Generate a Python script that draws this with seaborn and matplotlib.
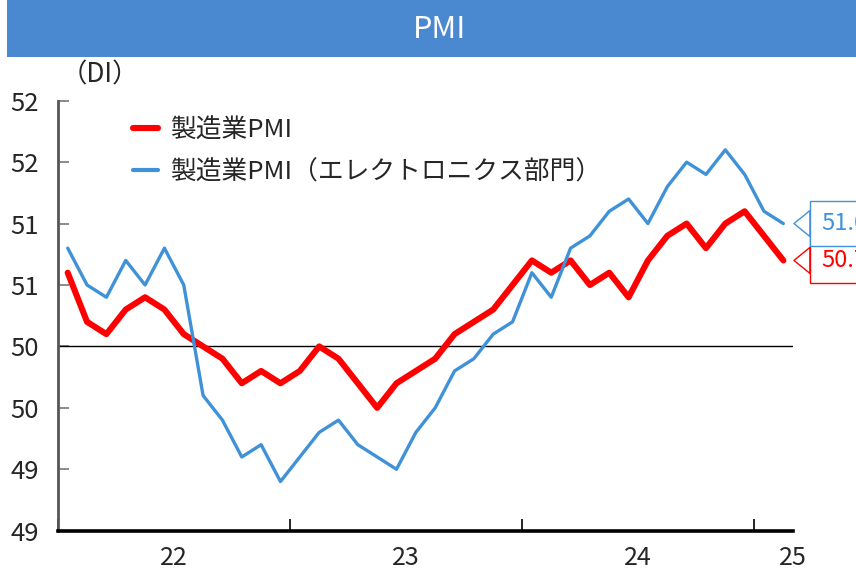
import numpy as np
import pandas as pd
import seaborn as sns
import matplotlib.pyplot as plt
from matplotlib.patches import Rectangle

# monthly, Jan 2022 - Feb 2025
months = pd.period_range("2022-01", "2025-02", freq="M")

mfg_pmi = [50.6, 50.2, 50.1, 50.3, 50.4, 50.3, 50.1, 50.0, 49.9, 49.7, 49.8, 49.7,
           49.8, 50.0, 49.9, 49.7, 49.5, 49.7, 49.8, 49.9, 50.1, 50.2, 50.3, 50.5,
           50.7, 50.6, 50.7, 50.5, 50.6, 50.4, 50.7, 50.9, 51.0, 50.8, 51.0, 51.1,
           50.9, 50.7]
elec_pmi = [50.8, 50.5, 50.4, 50.7, 50.5, 50.8, 50.5, 49.6, 49.4, 49.1, 49.2, 48.9,
            49.1, 49.3, 49.4, 49.2, 49.1, 49.0, 49.3, 49.5, 49.8, 49.9, 50.1, 50.2,
            50.6, 50.4, 50.8, 50.9, 51.1, 51.2, 51.0, 51.3, 51.5, 51.4, 51.6, 51.4,
            51.1, 51.0]

series_names = ["製造業PMI", "製造業PMI（エレクトロニクス部門）"]
series_colors = ["#ff0000", "#3f92d8"]
year_labels = ["22", "23", "24", "25"]
ytick_values = [48.5, 49.0, 49.5, 50.0, 50.5, 51.0, 51.5, 52.0]
ytick_labels = ["49", "49", "50", "50", "51", "51", "52", "52"]
last_labels = ["50.7", "51.0"]

sns.set_style("ticks")
plt.rcParams["font.family"] = ["Noto Sans CJK JP", "DejaVu Sans"]

df = pd.DataFrame({"pos": np.arange(len(months)),
                   series_names[0]: mfg_pmi,
                   series_names[1]: elec_pmi})

fig = plt.figure(figsize=(8.56, 5.71), dpi=100)
ax = fig.add_axes([0.0678, 0.0706, 0.8586, 0.753])

sns.lineplot(data=df, x="pos", y=series_names[0], color=series_colors[0],
             linewidth=4.4, label=series_names[0], ax=ax)
sns.lineplot(data=df, x="pos", y=series_names[1], color=series_colors[1],
             linewidth=2.4, label=series_names[1], ax=ax)
ax.axhline(50, color="black", linewidth=1, zorder=1)

ax.set_xlim(-0.5, len(months) - 0.5)
ax.set_ylim(48.5, 52.0)
ax.set_xlabel("")
ax.set_ylabel("")

# year boundaries as ticks, year names centred between them
year_starts = [i - 0.5 for i, m in enumerate(months) if m.month == 1]
ax.set_xticks(year_starts)
ax.set_xticklabels([])
year_centres = [min(s + 6, len(months) - 0.5) for s in year_starts]
ax.set_xticks(year_centres, minor=True)
ax.set_xticklabels(year_labels, minor=True)
ax.tick_params(axis="x", which="major", direction="in", length=9, width=1.2, color="black")
ax.tick_params(axis="x", which="minor", length=0, pad=10, labelsize=18)

ax.set_yticks(ytick_values)
ax.set_yticklabels(ytick_labels)
ax.tick_params(axis="y", direction="in", length=8, width=1.2, color="#777777",
               labelsize=18.5, pad=14)

sns.despine(ax=ax)
ax.spines["bottom"].set_linewidth(2.6)
ax.spines["bottom"].set_color("black")
ax.spines["left"].set_linewidth(2)
ax.spines["left"].set_color("#555555")

leg = ax.legend(loc="upper left", bbox_to_anchor=(0.07, 1.015), frameon=False,
                fontsize=18.5, handlelength=1.0, handletextpad=0.45, labelspacing=0.62)
for line in leg.get_lines():
    line.set_linewidth(4.4)
leg.get_lines()[1].set_linewidth(3)

# callouts for the latest values
last_vals = [mfg_pmi[-1], elec_pmi[-1]]
for val, txt, col in zip(last_vals, last_labels, series_colors):
    ax.annotate(txt, xy=(len(months) - 0.45, val), xycoords="data",
                xytext=(20, 0), textcoords="offset points",
                ha="left", va="center", fontsize=17, color=col,
                annotation_clip=False,
                bbox=dict(boxstyle="square,pad=0.48", fc="white", ec=col, lw=1),
                arrowprops=dict(arrowstyle="wedge,tail_width=1.1,shrink_factor=0.5",
                                fc="white", ec=col, lw=1, shrinkA=0, shrinkB=0))

fig.text(0.117, 1 - 75 / 571, "（DI）", ha="center", va="center", fontsize=19)

# title band
fig.add_artist(Rectangle((7 / 856, 1 - 57 / 571), 1, 57 / 571,
                         transform=fig.transFigure, facecolor="#4a89d0",
                         edgecolor="none", zorder=0))
fig.text(0.513, 1 - 30 / 571, "PMI", ha="center", va="center",
         fontsize=22, color="white")

fig.savefig("out.png", dpi=100)
